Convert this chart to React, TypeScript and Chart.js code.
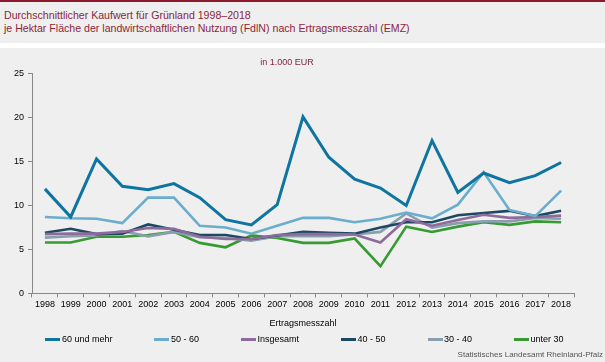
import React, { useEffect, useRef } from "react";
import { Chart, registerables } from "chart.js";

Chart.register(...registerables);

const years = ["1998","1999","2000","2001","2002","2003","2004","2005","2006","2007","2008","2009","2010","2011","2012","2013","2014","2015","2016","2017","2018"];
const seriesNames = ["60 und mehr", "50 - 60", "Insgesamt", "40 - 50", "30 - 40", "unter 30"];
const v60 = [11.9, 8.7, 15.3, 12.2, 11.8, 12.5, 10.9, 8.4, 7.8, 10.1, 20.1, 15.5, 13.0, 12.0, 10.0, 17.4, 11.5, 13.7, 12.6, 13.4, 14.9];
const v5060 = [8.7, 8.55, 8.5, 8.0, 10.9, 10.9, 7.7, 7.5, 6.8, 7.7, 8.6, 8.6, 8.1, 8.5, 9.2, 8.55, 10.1, 13.8, 9.5, 8.8, 11.7];
const vGesamt = [6.75, 6.8, 6.8, 7.0, 7.45, 7.35, 6.45, 6.2, 6.2, 6.65, 6.75, 6.75, 6.7, 5.8, 8.45, 7.7, 8.35, 8.95, 8.6, 8.7, 8.85];
const v4050 = [6.9, 7.35, 6.75, 6.8, 7.85, 7.25, 6.65, 6.65, 6.2, 6.6, 7.0, 6.9, 6.8, 7.5, 8.1, 8.1, 8.9, 9.15, 9.4, 8.8, 9.4];
const v3040 = [6.35, 6.5, 6.6, 7.1, 6.5, 7.0, 6.4, 6.3, 6.0, 6.5, 6.5, 6.5, 6.7, 7.0, 9.1, 7.5, 8.0, 8.2, 8.2, 8.6, 8.5];
const vUnter30 = [5.8, 5.8, 6.45, 6.45, 6.65, 7.0, 5.75, 5.25, 6.6, 6.3, 5.75, 5.75, 6.25, 3.1, 7.6, 7.0, 7.6, 8.1, 7.8, 8.2, 8.1];
const colors = ["#0e74a0", "#6aadcc", "#8f6a9c", "#1b4964", "#8a9fae", "#379a33"];
const widths = [3, 2.6, 2.6, 2.6, 2.6, 2.6];

const FONT = "'Liberation Sans', Arial, sans-serif";

export default function App() {
  const ref = useRef<HTMLCanvasElement | null>(null);
  useEffect(() => {
    if (!ref.current) return;
    Chart.defaults.font.family = FONT;
    const values = [v60, v5060, vGesamt, v4050, v3040, vUnter30];
    const chart = new Chart(ref.current, {
      type: "line",
      data: {
        labels: years,
        datasets: seriesNames.map((n, i) => ({
          label: n,
          data: values[i],
          borderColor: colors[i],
          backgroundColor: colors[i],
          borderWidth: widths[i],
          pointRadius: 0,
          tension: 0,
          fill: false,
        })),
      },
      options: {
        animation: false,
        responsive: false,
        layout: { padding: { left: 0, right: 31, top: 0, bottom: 33 } },
        plugins: {
          tooltip: { enabled: false },
          legend: { display: false },
          title: {
            display: true,
            text: "in 1.000 EUR",
            color: "#7a1f3d",
            font: { size: 9, weight: "normal" },
            padding: { top: 9, bottom: 6 },
          },
        },
        scales: {
          x: {
            offset: true,
            grid: { display: true, drawOnChartArea: false, drawTicks: true, tickLength: 4, offset: true, color: "#888" },
            border: { display: true, color: "#888", width: 1 },
            ticks: { color: "#000", font: { size: 9 }, padding: 2, maxRotation: 0, autoSkip: false },
            title: { display: true, text: "Ertragsmesszahl", color: "#000", font: { size: 9 }, padding: { top: 6, bottom: 0 } },
          },
          y: {
            min: 0,
            max: 25,
            afterFit: (s: any) => { s.width = 32; },
            grid: { display: true, drawOnChartArea: false, drawTicks: true, tickLength: 4, color: "#888" },
            border: { display: true, color: "#888", width: 1 },
            ticks: { stepSize: 5, color: "#000", font: { size: 9 }, padding: 4 },
          },
        },
      },
    });
    return () => chart.destroy();
  }, []);

  return (
    <div style={{ position: "fixed", left: 0, top: 0, width: 605, height: 362, background: "#eeefee", overflow: "hidden", fontFamily: FONT }}>
      <div style={{ position: "absolute", left: 0, top: 0, width: 605, height: 2, background: "#8b1a2e" }} />
      <div style={{ position: "absolute", left: 4, top: 9, fontSize: 10.6, lineHeight: "13px", color: "#8c1f3c", whiteSpace: "nowrap" }}>
        <div>Durchschnittlicher Kaufwert für Grünland 1998–2018</div>
        <div>je Hektar Fläche der landwirtschaftlichen Nutzung (FdlN) nach Ertragsmesszahl (EMZ)</div>
      </div>
      <div style={{ position: "absolute", left: 0, top: 43, width: 605, height: 5, background: "#ffffff" }} />
      <canvas ref={ref} width={605} height={314} style={{ position: "absolute", left: 0, top: 48, width: 605, height: 314 }} />
      <div style={{ position: "absolute", left: 0, top: 333, width: 605, height: 12, display: "flex", justifyContent: "center", alignItems: "center", gap: 42, paddingLeft: 4, boxSizing: "border-box" }}>
        {seriesNames.map((n, i) => (
          <div key={n} style={{ display: "flex", alignItems: "center", fontSize: 9, lineHeight: "12px", color: "#000", whiteSpace: "nowrap" }}>
            <span style={{ display: "inline-block", width: 15, height: 3, background: colors[i], marginRight: 1.5 }} />
            <span>{n}</span>
          </div>
        ))}
      </div>
      <div style={{ position: "absolute", right: 2, top: 350, fontSize: 8, lineHeight: "10px", color: "#555", whiteSpace: "nowrap" }}>
        Statistisches Landesamt Rheinland-Pfalz
      </div>
    </div>
  );
}
